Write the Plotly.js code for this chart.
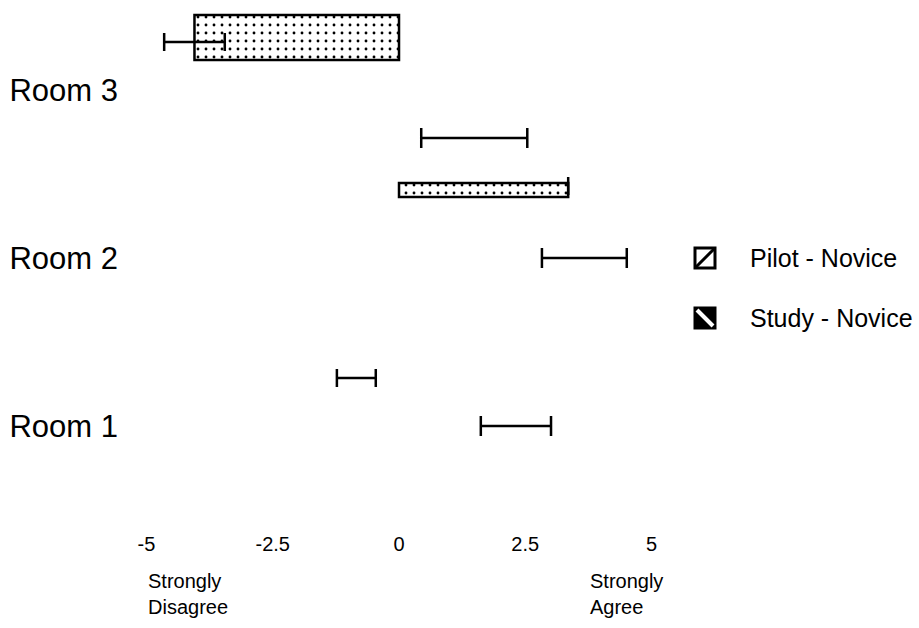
<!DOCTYPE html>
<html><head><meta charset="utf-8">
<script src="https://cdn.plot.ly/plotly-3.0.1.min.js"></script>
<style>html,body{margin:0;padding:0;background:#fff}#chart{width:919px;height:628px}</style>
</head><body><div id="chart"></div>
<script>
const rooms = ['Room 3', 'Room 2', 'Room 1'];
const studyMean = [-4.05, 3.35, -1.23];
const studyErrPlus = [0.6, 0, 0.77];
const studyErrMinus = [0.6, 0, 0];
const pilotMean = [0.44, 2.83, 1.62];
const pilotErrPlus = [2.1, 1.68, 1.39];
const pilotErrMinus = [0, 0, 0];
const xTickVals = [-5, -2.5, 0, 2.5, 5];
const xTickText = ['-5', '-2.5', '0', '2.5', '5'];
const scaleEnds = ['Strongly<br>Disagree', 'Strongly<br>Agree'];
const seriesNames = ['Pilot - Novice', 'Study - Novice'];

// category order of the vertical axis (top to bottom), with spacer slots
const rowOrder = ['Room 3|Study', 'gap a', 'Room 3', 'gap b', 'Room 3|Pilot', 'gap c',
  'Room 2|Study', 'gap d', 'gap e', 'Room 2|Pilot', 'gap f', 'gap g', 'gap h', 'gap i',
  'Room 1|Study', 'gap j', 'Room 1|Pilot', 'gap k', 'gap l', 'gap m', 'gap n'];
const roomTickRows = ['Room 3', 'Room 2|Pilot', 'Room 1|Pilot'];

const studyY = rooms.map(r => r + '|Study');
const pilotY = rooms.map(r => r + '|Pilot');

const FONT = 'Liberation Sans, Arial, Helvetica, sans-serif';

const traces = [
  { // study bars (as they appear in the scan)
    type: 'bar', orientation: 'h', x: studyMean, y: studyY, showlegend: false,
    width: [1.875, 0.58, 0.6], offset: [-1.125, -0.125, -0.3],
    marker: { color: 'white', opacity: [1, 1, 0],
      line: { color: 'black', width: 2.5 },
      pattern: { shape: '.', fgcolor: 'black', bgcolor: 'white', fillmode: 'replace', size: 8, solidity: 0.1 } },
    hoverinfo: 'skip'
  },
  { // study error bars
    type: 'scatter', mode: 'markers', x: studyMean, y: studyY, showlegend: false,
    marker: { size: 1, color: 'rgba(0,0,0,0)' },
    error_x: { type: 'data', symmetric: false, array: studyErrPlus, arrayminus: studyErrMinus,
      color: 'black', thickness: 2.5, width: 9 },
    hoverinfo: 'skip'
  },
  { // pilot error bars
    type: 'scatter', mode: 'markers', x: pilotMean, y: pilotY, showlegend: false,
    marker: { size: 1, color: 'rgba(0,0,0,0)' },
    error_x: { type: 'data', symmetric: false, array: pilotErrPlus, arrayminus: pilotErrMinus,
      color: 'black', thickness: 2.5, width: 10 },
    hoverinfo: 'skip'
  }
];

// legend drawn as small keyed boxes at the right of the plot
const legendPos = [{ x: 1.0448, y: 0.5163 }, { x: 1.0448, y: 0.4015 }];
const shapes = [
  // Pilot - Novice key: white box, black outline, "/" stripe
  { type: 'rect', xref: 'paper', yref: 'paper', xsizemode: 'pixel', ysizemode: 'pixel',
    xanchor: legendPos[0].x, yanchor: legendPos[0].y, x0: -10, x1: 10, y0: -10, y1: 10,
    fillcolor: 'white', line: { color: 'black', width: 3 } },
  { type: 'line', xref: 'paper', yref: 'paper', xsizemode: 'pixel', ysizemode: 'pixel',
    xanchor: legendPos[0].x, yanchor: legendPos[0].y, x0: -9, x1: 9, y0: -9, y1: 9,
    line: { color: 'black', width: 3 } },
  // Study - Novice key: black box, white "\" stripe
  { type: 'rect', xref: 'paper', yref: 'paper', xsizemode: 'pixel', ysizemode: 'pixel',
    xanchor: legendPos[1].x, yanchor: legendPos[1].y, x0: -10, x1: 10, y0: -10, y1: 10,
    fillcolor: 'black', line: { color: 'black', width: 3 } },
  { type: 'line', xref: 'paper', yref: 'paper', xsizemode: 'pixel', ysizemode: 'pixel',
    xanchor: legendPos[1].x, yanchor: legendPos[1].y, x0: -8, x1: 8, y0: 8, y1: -8,
    line: { color: 'white', width: 4 } }
];

const layout = {
  width: 919, height: 628,
  margin: { l: 122, r: 239, t: 5, b: 100 },
  paper_bgcolor: 'white', plot_bgcolor: 'white',
  font: { family: FONT, color: 'black' },
  barmode: 'overlay',
  showlegend: false,
  hovermode: false,
  xaxis: {
    range: [-5.485, 5.564], showgrid: false, zeroline: false, showline: false,
    ticks: '', tickmode: 'array', tickvals: xTickVals, ticktext: xTickText,
    ticklabelstandoff: 2,
    tickfont: { size: 20, family: FONT, color: 'black' }
  },
  yaxis: {
    type: 'category', categoryorder: 'array', categoryarray: rowOrder,
    range: [20.25, -1.54], showgrid: false, zeroline: false, showline: false,
    ticks: '', tickmode: 'array', tickvals: roomTickRows, ticktext: rooms,
    ticklabelstandoff: 3,
    tickfont: { size: 31, family: FONT, color: 'black' }
  },
  shapes: shapes,
  annotations: [
    { text: scaleEnds[0], xref: 'x', yref: 'paper', x: -5, y: -0.076, xanchor: 'left', yanchor: 'top',
      align: 'left', showarrow: false, font: { size: 20, family: FONT, color: 'black' } },
    { text: scaleEnds[1], xref: 'x', yref: 'paper', x: 3.74, y: -0.076, xanchor: 'left', yanchor: 'top',
      align: 'left', showarrow: false, font: { size: 20, family: FONT, color: 'black' } },
    { text: seriesNames[0], xref: 'paper', yref: 'paper', x: 1.1219, y: legendPos[0].y,
      xanchor: 'left', yanchor: 'middle', showarrow: false, font: { size: 25, family: FONT, color: 'black' } },
    { text: seriesNames[1], xref: 'paper', yref: 'paper', x: 1.1219, y: legendPos[1].y,
      xanchor: 'left', yanchor: 'middle', showarrow: false, font: { size: 25, family: FONT, color: 'black' } }
  ]
};

Plotly.newPlot('chart', traces, layout, { displayModeBar: false, staticPlot: true });
</script>
</body></html>
